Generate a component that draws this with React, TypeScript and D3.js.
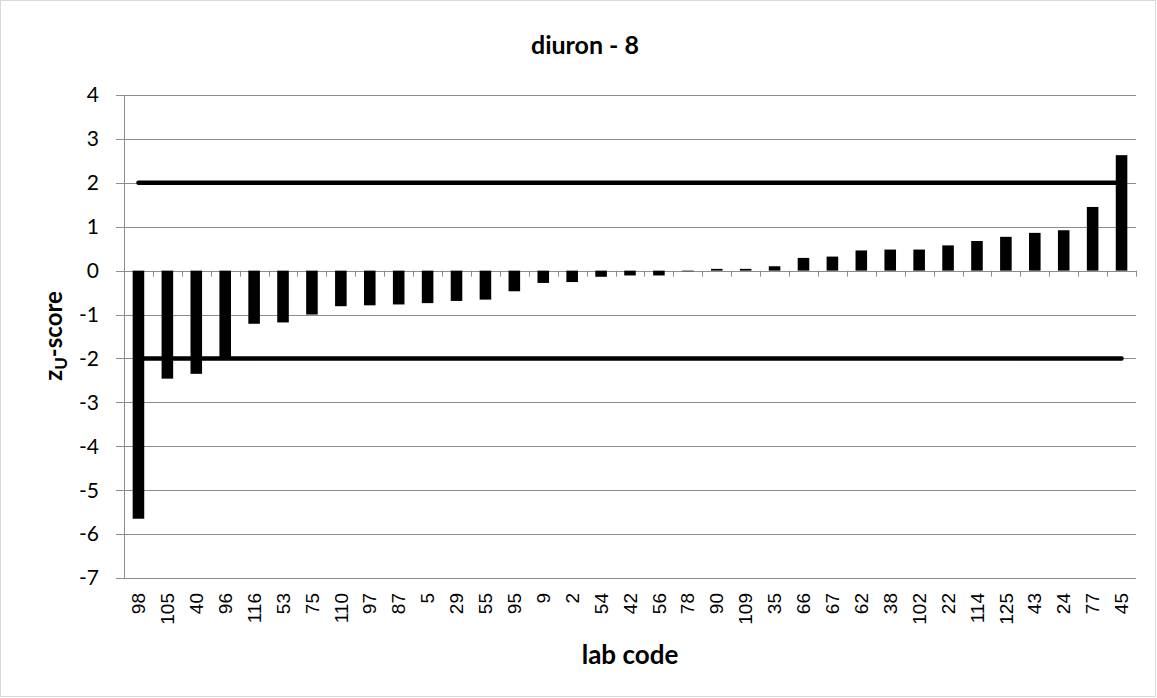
import React from "react";
import * as d3 from "d3";

const labCodes = ["98","105","40","96","116","53","75","110","97","87","5","29","55","95","9","2","54","42","56","78","90","109","35","66","67","62","38","102","22","114","125","43","24","77","45"];
const zScores = [-5.65,-2.46,-2.35,-1.98,-1.21,-1.18,-1.0,-0.81,-0.79,-0.77,-0.74,-0.69,-0.66,-0.47,-0.28,-0.26,-0.14,-0.11,-0.11,-0.01,0.04,0.04,0.1,0.29,0.32,0.46,0.48,0.48,0.575,0.675,0.77,0.86,0.92,1.45,2.63];
const yTicks = [4,3,2,1,0,-1,-2,-3,-4,-5,-6,-7];
const limits = [2, -2];
const title = "diuron - 8";
const xTitle = "lab code";

const W = 1157, H = 698;
const M = { left: 124, right: 1136, top: 95, bottom: 578 };
const FONT = "Lato, 'Open Sans', sans-serif";
const ARIAL = "'Liberation Sans', Arial, sans-serif";

export default function App() {
  const x = d3.scaleBand<string>().domain(labCodes).range([M.left, M.right]).paddingInner(0.6).paddingOuter(0.3);
  const y = d3.scaleLinear().domain([-7, 4]).range([M.bottom, M.top]);
  const step = x.step();
  const first = (x(labCodes[0]) ?? 0) + x.bandwidth() / 2;
  const last = (x(labCodes[labCodes.length - 1]) ?? 0) + x.bandwidth() / 2;
  const grid = "#8c8c8c";
  return (
    <div style={{ position: "fixed", left: 0, top: 0 }}>
      <svg width={W} height={H} style={{ display: "block", background: "#fff" }}>
        <rect x={0.5} y={0.5} width={W - 2} height={H - 2} fill="#fff" stroke="#d9d9d9" />
        <text x={585} y={54} textAnchor="middle" fontFamily={FONT} fontWeight="bold" fontSize={25}>{title}</text>
        {yTicks.map(t => (
          <g key={t}>
            <line x1={M.left - 8} x2={M.right} y1={Math.round(y(t)) + 0.5} y2={Math.round(y(t)) + 0.5} stroke={grid} strokeWidth={1} />
            <text x={99} y={y(t)} dy="0.35em" textAnchor="end" fontFamily={FONT} fontSize={21}>{t}</text>
          </g>
        ))}
        <line x1={M.left + 0.5} x2={M.left + 0.5} y1={M.top} y2={M.bottom} stroke={grid} />
        {labCodes.map((c, i) => (
          <line key={"t" + c} x1={Math.round(M.left + step * (i + 1)) + 0.5} x2={Math.round(M.left + step * (i + 1)) + 0.5} y1={y(0)} y2={y(0) + 6} stroke={grid} />
        ))}
        {labCodes.map((c, i) => {
          const v = zScores[i];
          const y0 = y(Math.max(0, v));
          const h = Math.abs(y(v) - y(0));
          return <rect key={c} x={x(c)} y={y0} width={x.bandwidth()} height={Math.max(h, 0.6)} fill="#000" />;
        })}
        {limits.map(l => (
          <line key={l} x1={first} x2={last} y1={y(l)} y2={y(l)} stroke="#000" strokeWidth={4.5} strokeLinecap="round" />
        ))}
        {labCodes.map(c => (
          <text key={"l" + c} transform={`translate(${(x(c) ?? 0) + x.bandwidth() / 2},${M.bottom + 15}) rotate(-90)`} dy="0.35em" textAnchor="end" fontFamily={ARIAL} fontSize={19}>{c}</text>
        ))}
        <text x={630} y={664} textAnchor="middle" fontFamily={FONT} fontWeight="bold" fontSize={26}>{xTitle}</text>
        <text transform={`translate(62,336) rotate(-90)`} textAnchor="middle" fontFamily={FONT} fontWeight="bold" fontSize={24}>
          z<tspan fontSize={17} dy={5}>U</tspan><tspan dy={-5}>-score</tspan>
        </text>
      </svg>
    </div>
  );
}
